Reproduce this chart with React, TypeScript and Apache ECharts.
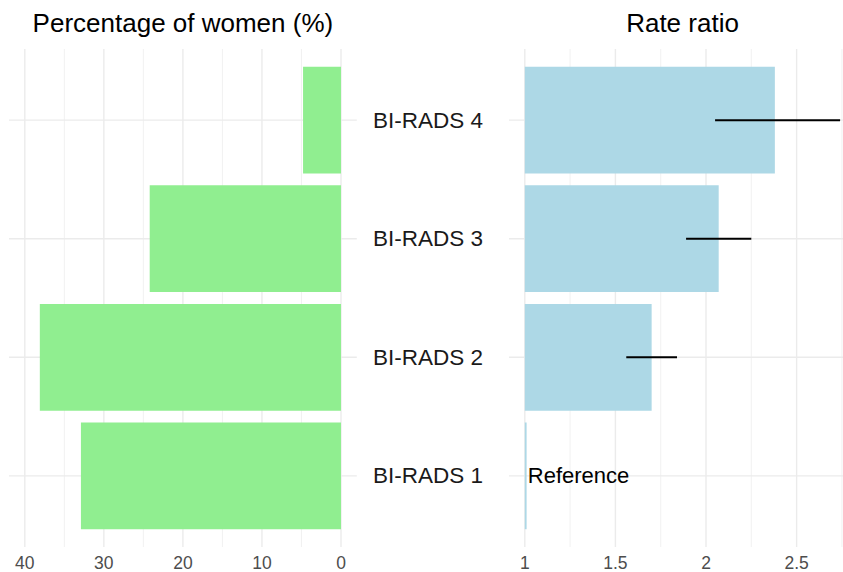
import React, { useEffect, useRef } from "react";
import * as echarts from "echarts";

// ---- data ----
const categories = ["BI-RADS 1", "BI-RADS 2", "BI-RADS 3", "BI-RADS 4"];
const pctWomen = [32.9, 38.1, 24.2, 4.8];
const rateRatio = [1.01, 1.7, 2.07, 2.38];
const ciLower: (number | null)[] = [null, 1.56, 1.89, 2.05];
const ciUpper: (number | null)[] = [null, 1.84, 2.25, 2.74];
const pctTicks = [0, 10, 20, 30, 40];
const pctMinor = [5, 15, 25, 35];
const rrTicks = [1, 1.5, 2, 2.5];
const rrMinor = [1.25, 1.75, 2.25, 2.75];
const referenceCategory = "BI-RADS 1";
const referenceValue = 1;
const referenceLabel = "Reference";
const leftTitle = "Percentage of women (%)";
const rightTitle = "Rate ratio";

const FONT = "'Liberation Sans', Arial, Helvetica, sans-serif";
const GRID_COLOR = "#ebebeb";

function vLines(xAxisIndex: number, yAxisIndex: number, values: number[], width: number) {
  return {
    type: "custom",
    xAxisIndex,
    yAxisIndex,
    z: 1,
    silent: true,
    data: values.map((v) => [v, 1]),
    renderItem: (params: any, api: any) => {
      const cs = params.coordSys;
      const p = api.coord([api.value(0), api.value(1)]);
      return {
        type: "line",
        shape: { x1: p[0], y1: cs.y, x2: p[0], y2: cs.y + cs.height },
        style: { stroke: GRID_COLOR, lineWidth: width },
      };
    },
  };
}

function hLines(xAxisIndex: number, yAxisIndex: number, xRef: number, width: number) {
  return {
    type: "custom",
    xAxisIndex,
    yAxisIndex,
    z: 1,
    silent: true,
    data: categories.map((_, i) => [xRef, i + 1]),
    renderItem: (params: any, api: any) => {
      const cs = params.coordSys;
      const p = api.coord([api.value(0), api.value(1)]);
      return {
        type: "line",
        shape: { x1: cs.x, y1: p[1], x2: cs.x + cs.width, y2: p[1] },
        style: { stroke: GRID_COLOR, lineWidth: width },
      };
    },
  };
}

export default function App() {
  const ref = useRef<HTMLDivElement>(null);
  useEffect(() => {
    if (!ref.current) return;
    const chart = echarts.init(ref.current, null, { renderer: "svg" });
    const ciData = categories
      .map((_, i) => [ciLower[i], ciUpper[i], i + 1])
      .filter((d) => d[0] != null && d[1] != null);
    const refIdx = categories.indexOf(referenceCategory) + 1;

    chart.setOption({
      animation: false,
      backgroundColor: "#ffffff",
      textStyle: { fontFamily: FONT },
      grid: [
        { left: 9, top: 49, width: 347.8, height: 500 },
        { left: 509, top: 49, width: 334, height: 500 },
      ],
      xAxis: [
        {
          type: "value",
          gridIndex: 0,
          inverse: true,
          min: -2,
          max: 42,
          axisLine: { show: false },
          axisTick: { show: false },
          splitLine: { show: false },
          axisLabel: {
            customValues: pctTicks,
            color: "#4d4d4d",
            fontSize: 17.5,
            margin: 7,
            fontFamily: FONT,
          },
        },
        {
          type: "value",
          gridIndex: 1,
          min: 0.9128,
          max: 2.756,
          axisLine: { show: false },
          axisTick: { show: false },
          splitLine: { show: false },
          axisLabel: {
            customValues: rrTicks,
            color: "#4d4d4d",
            fontSize: 17.5,
            margin: 7,
            fontFamily: FONT,
          },
        },
      ],
      yAxis: [
        {
          type: "value",
          gridIndex: 0,
          min: 0.4,
          max: 4.6,
          axisLine: { show: false },
          axisTick: { show: false },
          splitLine: { show: false },
          axisLabel: { show: false },
        },
        {
          type: "value",
          gridIndex: 1,
          min: 0.4,
          max: 4.6,
          axisLine: { show: false },
          axisTick: { show: false },
          splitLine: { show: false },
          axisLabel: {
            customValues: categories.map((_, i) => i + 1),
            formatter: (v: number) => categories[Math.round(v) - 1] ?? "",
            color: "#1a1a1a",
            fontSize: 22.5,
            margin: 26,
            fontFamily: FONT,
          },
        },
      ],
      graphic: [
        {
          type: "text",
          x: 182.9,
          y: 22.5,
          style: {
            text: leftTitle,
            fontSize: 26,
            fontFamily: FONT,
            fill: "#000",
            textAlign: "center",
            textVerticalAlign: "middle",
          },
        },
        {
          type: "text",
          x: 682.5,
          y: 22.5,
          style: {
            text: rightTitle,
            fontSize: 26,
            fontFamily: FONT,
            fill: "#000",
            textAlign: "center",
            textVerticalAlign: "middle",
          },
        },
      ],
      series: [
        vLines(0, 0, pctTicks, 1.4),
        vLines(0, 0, pctMinor, 0.7),
        hLines(0, 0, 0, 1.4),
        vLines(1, 1, rrTicks, 1.4),
        vLines(1, 1, rrMinor, 0.7),
        hLines(1, 1, 1, 1.4),
        {
          type: "custom",
          xAxisIndex: 0,
          yAxisIndex: 0,
          z: 2,
          data: categories.map((_, i) => [pctWomen[i], i + 1]),
          renderItem: (params: any, api: any) => {
            const y = api.value(1);
            const p0 = api.coord([0, y]);
            const p1 = api.coord([api.value(0), y]);
            const h = api.size([0, 0.9])[1];
            return {
              type: "rect",
              shape: {
                x: Math.min(p0[0], p1[0]),
                y: p0[1] - h / 2,
                width: Math.abs(p1[0] - p0[0]),
                height: h,
              },
              style: { fill: "#90ee90" },
            };
          },
        },
        {
          type: "custom",
          xAxisIndex: 1,
          yAxisIndex: 1,
          z: 2,
          data: categories.map((_, i) => [rateRatio[i], i + 1]),
          renderItem: (params: any, api: any) => {
            const y = api.value(1);
            const p0 = api.coord([referenceValue, y]);
            const p1 = api.coord([api.value(0), y]);
            const h = api.size([0, 0.9])[1];
            return {
              type: "rect",
              shape: {
                x: Math.min(p0[0], p1[0]),
                y: p0[1] - h / 2,
                width: Math.abs(p1[0] - p0[0]),
                height: h,
              },
              style: { fill: "#add8e6" },
            };
          },
        },
        {
          type: "custom",
          xAxisIndex: 1,
          yAxisIndex: 1,
          z: 3,
          data: ciData,
          renderItem: (params: any, api: any) => {
            const y = api.value(2);
            const a = api.coord([api.value(0), y]);
            const b = api.coord([api.value(1), y]);
            return {
              type: "line",
              shape: { x1: a[0], y1: a[1], x2: b[0], y2: b[1] },
              style: { stroke: "#000", lineWidth: 2 },
            };
          },
        },
        {
          type: "custom",
          xAxisIndex: 1,
          yAxisIndex: 1,
          z: 4,
          data: [[referenceValue, refIdx]],
          renderItem: (params: any, api: any) => {
            const p = api.coord([api.value(0), api.value(1)]);
            return {
              type: "text",
              x: p[0] + 3,
              y: p[1],
              style: {
                text: referenceLabel,
                fontSize: 22,
                fontFamily: FONT,
                fill: "#000",
                textAlign: "left",
                textVerticalAlign: "middle",
              },
            };
          },
        },
      ],
    });
    return () => chart.dispose();
  }, []);
  return (
    <div
      ref={ref}
      style={{ position: "fixed", left: 0, top: 0, width: 843, height: 572 }}
    />
  );
}
